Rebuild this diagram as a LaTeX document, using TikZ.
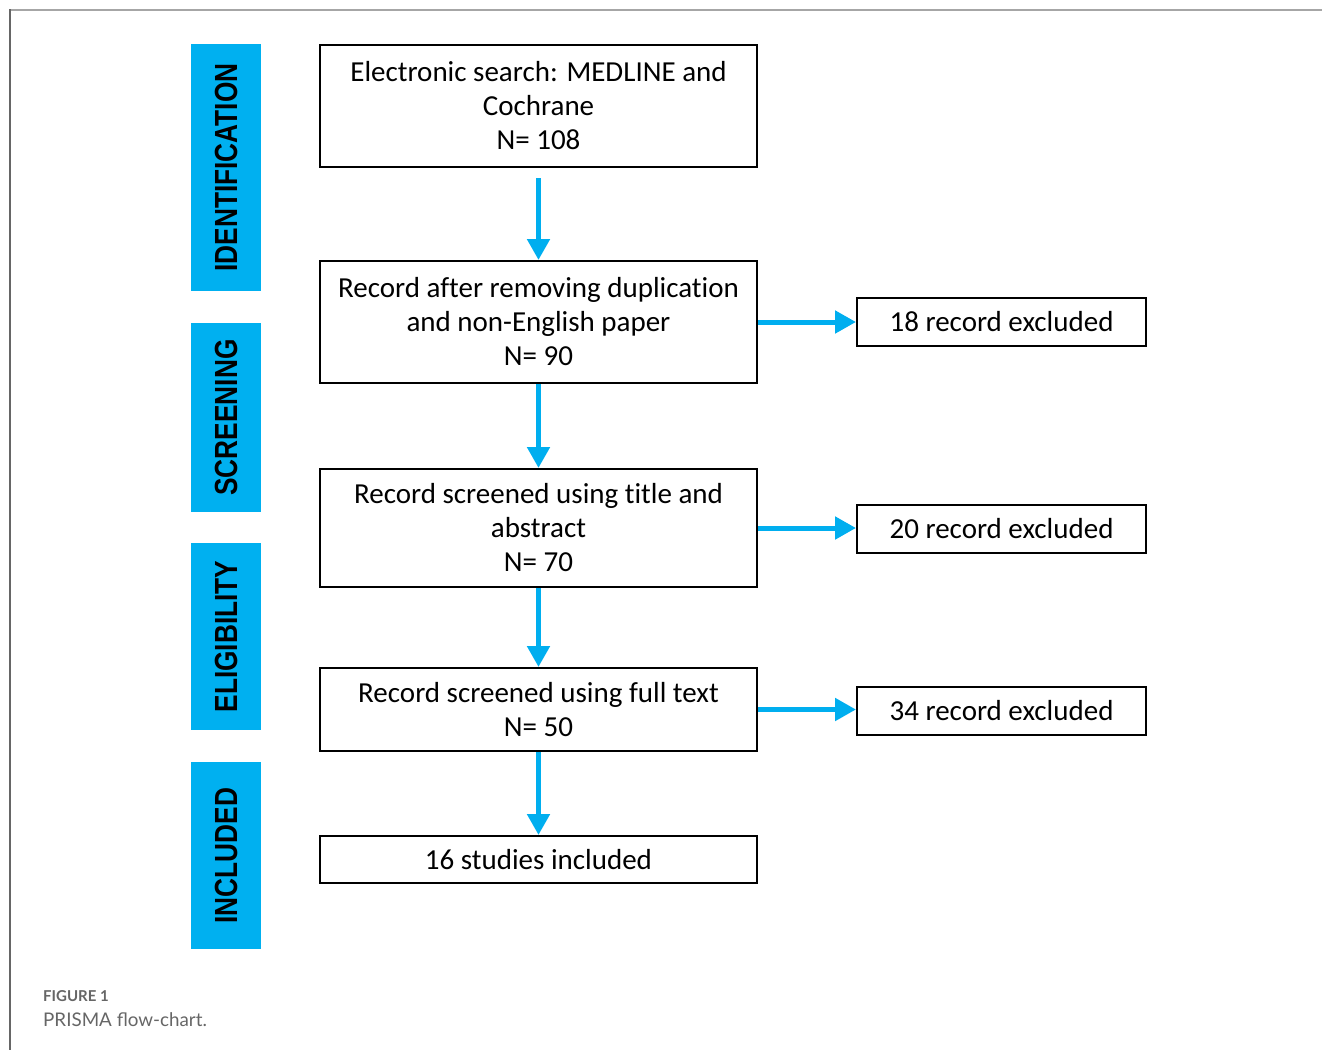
\documentclass[tikz,border=0pt]{standalone}
\usepackage{fontspec}
\setmainfont[Ligatures=NoCommon]{Carlito}
\newfontfamily\phasefont{Liberation Sans}
\newfontfamily\capfont{Lato}
\usetikzlibrary{arrows.meta}
\definecolor{prismablue}{HTML}{00AEEF}
\definecolor{barblue}{HTML}{00B0F0}
\def\phaselabel#1{\rotatebox{90}{\scalebox{0.82}[1]{\phasefont\bfseries\fontsize{32}{32}\selectfont #1}}}

\begin{document}
\begin{tikzpicture}[x=1pt, y=-1pt,
		box/.style={draw=black, line width=2pt, minimum width=437pt, align=center, inner sep=0pt, font=\fontsize{29}{34}\selectfont},
		exbox/.style={draw=black, line width=2pt, minimum width=289pt, minimum height=48pt, inner sep=0pt, font=\fontsize{29}{34}\selectfont},
		phase/.style={fill=barblue, minimum width=70pt, inner sep=0pt},
		flow/.style={draw=prismablue, line width=5pt, -{Triangle[width=22pt,length=21pt]}}]
		%%%%% START %%%%%
		\useasboundingbox (0, 0) rectangle (1322, 1050);
		\draw[black!35, line width=2pt] (1322, 10) -- (10, 10);
		\draw[black!60, line width=1.5pt] (10, 9) -- (10, 1050);
		
		% phases
		\node[phase, minimum height=247pt] (ident) at (226, 167.5) {\phaselabel{IDENTIFICATION}};
		\node[phase, minimum height=189pt] (screen) at (226, 417.5) {\phaselabel{SCREENING}};
		\node[phase, minimum height=187pt] (elig) at (226, 636.5) {\phaselabel{ELIGIBILITY}};
		\node[phase, minimum height=187pt] (incl) at (226, 855.5) {\phaselabel{INCLUDED}};
		
		% main column
		\node[box, minimum height=122pt] (search) at (538.5, 106) {Electronic search: MEDLINE and\\Cochrane\\N= 108};
		\node[box, minimum height=122pt] (dedup) at (538.5, 322) {Record after removing duplication\\and non-English paper\\N= 90};
		\node[box, minimum height=118pt] (title) at (538.5, 528) {Record screened using title and\\abstract\\N= 70};
		\node[box, minimum height=83pt] (full) at (538.5, 709.5) {Record screened using full text\\N= 50};
		\node[box, minimum height=47pt] (incl5) at (538.5, 859.5) {16 studies included};
		
		% excluded
		\node[exbox] (ex1) at (1001.5, 322) {18 record excluded};
		\node[exbox] (ex2) at (1001.5, 528.5) {20 record excluded};
		\node[exbox] (ex3) at (1001.5, 711) {34 record excluded};
		
		\draw[flow, shorten <=10pt] (search) -- (dedup);
		\draw[flow] (dedup) -- (title);
		\draw[flow] (title) -- (full);
		\draw[flow] (full) -- (incl5);
		
		\draw[flow] (dedup.east) -- (dedup.east -| ex1.west);
		\draw[flow] (title.east) -- (title.east -| ex2.west);
		\draw[flow] (full.east) -- (full.east -| ex3.west);
		
		% caption
		\node[anchor=base west, inner sep=0pt, text=black!60, font=\capfont\bfseries\fontsize{15}{15}\selectfont] (fig) at (43, 1001) {FIGURE 1};
		\node[anchor=base west, inner sep=0pt, text=black!60, font=\capfont\fontsize{18.8}{18.8}\selectfont] (cap) at (43, 1026) {PRISMA flow-chart.};
		%%%%% END %%%%%
\end{tikzpicture}
\end{document}
